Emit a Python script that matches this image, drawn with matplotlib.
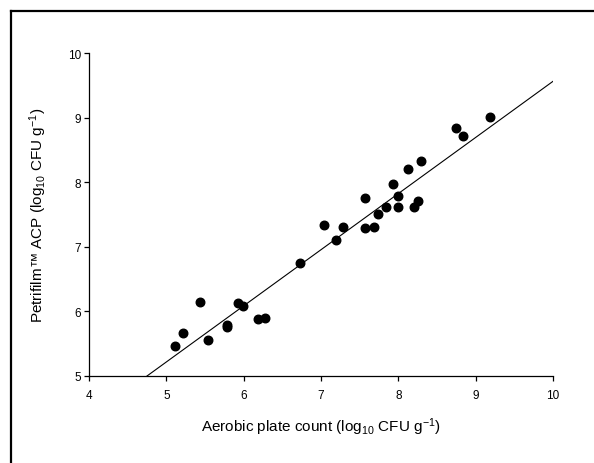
import matplotlib
matplotlib.use("Agg")
import matplotlib.pyplot as plt
from matplotlib.lines import Line2D
import numpy as np

plt.rcParams["font.family"] = ["Liberation Sans", "DejaVu Sans"]
plt.rcParams["mathtext.fontset"] = "custom"
plt.rcParams["mathtext.rm"] = "Liberation Sans"
plt.rcParams["mathtext.it"] = "Liberation Sans"
plt.rcParams["mathtext.default"] = "regular"

# aerobic plate count vs Petrifilm ACP (log10 CFU/g)
apc = [5.11, 5.21, 5.43, 5.54, 5.78, 5.79, 5.93, 5.99, 6.18, 6.27,
       6.73, 7.04, 7.19, 7.29, 7.57, 7.57, 7.69, 7.74, 7.84, 7.93,
       8.00, 8.00, 8.13, 8.20, 8.25, 8.29, 8.75, 8.83, 9.19]
petrifilm = [5.47, 5.67, 6.14, 5.55, 5.76, 5.79, 6.13, 6.09, 5.89, 5.90,
             6.75, 7.33, 7.11, 7.31, 7.76, 7.29, 7.31, 7.51, 7.61, 7.97,
             7.79, 7.61, 8.21, 7.62, 7.71, 8.33, 8.84, 8.71, 9.01]

# regression line
slope = 0.869
intercept = 0.872
line_x = [4.75, 10.0]

fig = plt.figure(figsize=(5.94, 4.64), dpi=100)
ax = fig.add_axes([0.1498, 0.1875, 0.7812, 0.6961])

ax.scatter(apc, petrifilm, s=38, color="black", zorder=3)
lx = np.array(line_x)
ax.plot(lx, intercept + slope * lx, color="black", lw=0.8)

ax.set_xlim(4, 10)
ax.set_ylim(5, 10)
ax.set_xticks(range(4, 11))
ax.set_yticks(range(5, 11))
ax.spines["top"].set_visible(False)
ax.spines["right"].set_visible(False)
for s in ["left", "bottom"]:
    ax.spines[s].set_linewidth(0.9)
ax.tick_params(direction="out", length=3.6, width=0.9, labelsize=8.5)
ax.tick_params(axis="x", pad=6)
ax.tick_params(axis="y", pad=2)

ax.set_xlabel("Aerobic plate count (log$_{10}$ CFU g$^{-1}$)", fontsize=11, labelpad=10)
ax.set_ylabel("Petrifilm\u2122 ACP (log$_{10}$ CFU g$^{-1}$)", fontsize=11, labelpad=14)

# outer frame (top and left edges visible)
fig.add_artist(Line2D([11 / 594, 1.0], [1 - 12 / 464, 1 - 12 / 464], color="black", lw=1.6))
fig.add_artist(Line2D([11 / 594, 11 / 594], [0.0, 1 - 12 / 464], color="black", lw=1.6))

fig.savefig("out.png", dpi=100)
